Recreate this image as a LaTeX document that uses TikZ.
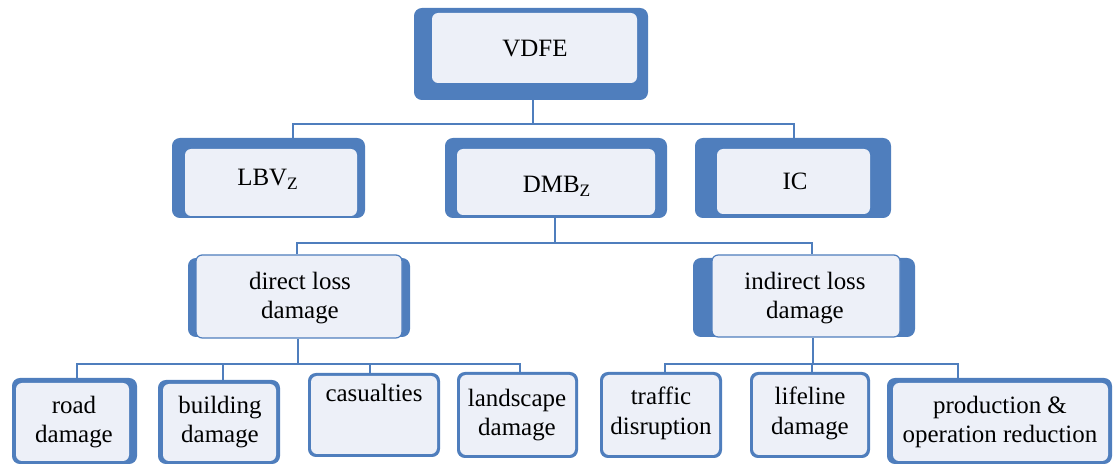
\documentclass[tikz,border=0pt]{standalone}
\usepackage{fontspec}
\setmainfont{Liberation Serif}
\usetikzlibrary{fit}
\definecolor{frameblue}{RGB}{79,126,189}
\definecolor{panel}{RGB}{237,240,248}
\begin{document}
\begin{tikzpicture}[x=0.02cm,y=-0.02cm,
  shell/.style={fill=frameblue, draw=none, rounded corners=4.5pt, inner sep=0pt},
  face/.style={fill=panel, draw=none, rounded corners=3.5pt, inner sep=0pt},
  rimmed/.style={face, draw=frameblue, line width=0.7pt},
  txt/.style={font=\fontsize{14.2}{17}\selectfont, align=center, inner sep=0pt},
  link/.style={draw=frameblue, line width=1.4pt}]
\useasboundingbox (0,0) rectangle (1116,465);

% top level
\node[shell, fit={(414,8) (648,100)}] (vdfeO) {};
\node[face, fit={(432,13) (637,83)}] (vdfe) {};
\node[txt, anchor=base] at (535,57) {VDFE};

% second level
\node[shell, fit={(172,138) (365,218)}] (lbvO) {};
\node[face, fit={(185,149) (357,216)}] (lbv) {};
\node[txt, anchor=base] at (268,186) {LBV\textsubscript{Z}};

\node[shell, fit={(445,138) (667,218)}] (dmbO) {};
\node[face, fit={(457,149) (655,215)}] (dmb) {};
\node[txt, anchor=base] at (557,193) {DMB\textsubscript{Z}};

\node[shell, fit={(695,138) (891,218)}] (icO) {};
\node[face, fit={(717,149) (870,214)}] (ic) {};
\node[txt, anchor=base] at (795,190) {IC};

% third level
\node[shell, fit={(188,258) (410,337)}] (directO) {};
\node[rimmed, fit={(196,255) (402,338)}] (direct) {};
\node[txt] at (300,298) {direct loss\\damage};

\node[shell, fit={(693,258) (915,337)}] (indirectO) {};
\node[rimmed, fit={(712,255) (900,337)}] (indirect) {};
\node[txt] at (805,298) {indirect loss\\damage};

% bottom level
\node[shell, fit={(12,378) (137,464)}] (roadO) {};
\node[face, fit={(16,383) (129,461)}] (road) {};
\node[txt] at (74,422) {road\\damage};

\node[shell, fit={(158,380) (280,464)}] (bldgO) {};
\node[face, fit={(163,384) (276,461)}] (bldg) {};
\node[txt] at (220,422) {building\\damage};

\node[shell, fit={(308,373) (440,457)}] (casO) {};
\node[face, fit={(311,376) (437,454)}] (cas) {};
\node[txt] at (374,393) {casualties};

\node[shell, fit={(457,372) (578,458)}] (landO) {};
\node[face, fit={(460,375) (575,455)}] (land) {};
\node[txt] at (517,415) {landscape\\damage};

\node[shell, fit={(600,372) (722,458)}] (trafO) {};
\node[face, fit={(603,375) (719,455)}] (traf) {};
\node[txt] at (661,413) {traffic\\disruption};

\node[shell, fit={(750,372) (870,458)}] (lifeO) {};
\node[face, fit={(753,375) (867,455)}] (life) {};
\node[txt] at (810,413) {lifeline\\damage};

\node[shell, fit={(887,378) (1112,464)}] (prodO) {};
\node[face, fit={(893,383) (1108,461)}] (prod) {};
\node[txt] at (1000,422) {production \&\\operation reduction};

% connectors
\coordinate (b1) at (533,124);
\coordinate (b1L) at (293,124);
\coordinate (b1R) at (794,124);
\draw[link] (vdfeO.south -| b1) -- (b1);
\draw[link] (b1L |- lbvO.north) -- (b1L) -- (b1R) -- (b1R |- icO.north);

\coordinate (b2) at (555,243);
\coordinate (b2L) at (297,243);
\coordinate (b2R) at (812,243);
\draw[link] (dmbO.south -| b2) -- (b2);
\draw[link] (b2L |- direct.north) -- (b2L) -- (b2R) -- (b2R |- indirect.north);

\coordinate (b3) at (298,364);
\coordinate (b3a) at (77,364);
\coordinate (b3b) at (223,364);
\coordinate (b3c) at (370,364);
\coordinate (b3d) at (520,364);
\draw[link] (direct.south -| b3) -- (b3);
\draw[link] (b3a |- roadO.north) -- (b3a) -- (b3d) -- (b3d |- landO.north);
\draw[link] (b3b) -- (b3b |- bldgO.north);
\draw[link] (b3c) -- (b3c |- casO.north);

\coordinate (b4) at (813,364);
\coordinate (b4a) at (665,364);
\coordinate (b4b) at (812,364);
\coordinate (b4c) at (958,364);
\draw[link] (indirect.south -| b4) -- (b4);
\draw[link] (b4a |- trafO.north) -- (b4a) -- (b4c) -- (b4c |- prodO.north);
\draw[link] (b4b) -- (b4b |- lifeO.north);
\end{tikzpicture}
\end{document}
